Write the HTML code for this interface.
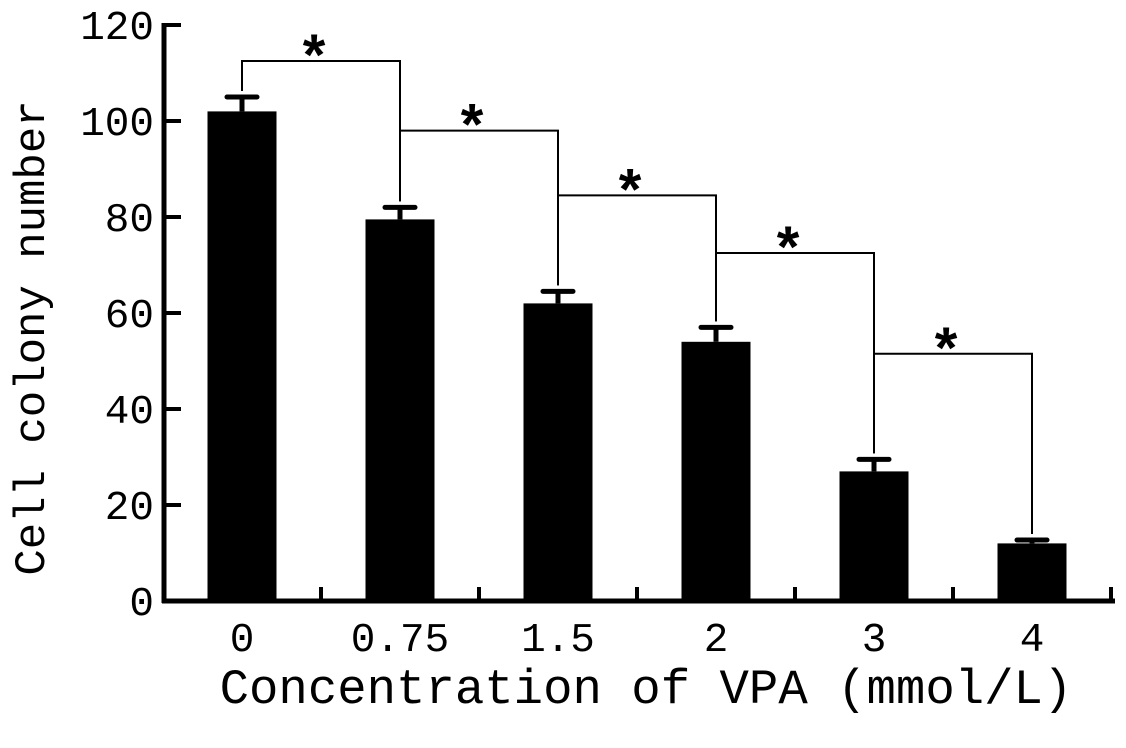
<!DOCTYPE html>
<html><head><meta charset="utf-8"><style>
html,body{margin:0;padding:0;background:#fff;}
svg{display:block;}
text{font-family:"Liberation Mono",monospace;fill:#000;}
</style></head><body>
<svg id="chart" width="1126" height="748" viewBox="0 0 1126 748" xmlns="http://www.w3.org/2000/svg">
<g id="axes"></g>
<g id="bars"></g>
<g id="sig"></g>
<text x="646" y="703" font-size="49" text-anchor="middle">Concentration of VPA (mmol/L)</text>
<text transform="translate(44,338) rotate(-90)" font-size="44" text-anchor="middle">Cell colony number</text>
</svg>
<script>
const categories = ["0","0.75","1.5","2","3","4"];
const values = [102, 79.5, 62, 54, 27, 12];
const errors = [3, 2.5, 2.5, 3, 2.5, 0.7];
const yTicks = [0,20,40,60,80,100,120];
const sigPairs = [[0,1],[1,2],[2,3],[3,4],[4,5]];
const sigLevels = [112.5, 98, 84.5, 72.5, 51.5];

const NS="http://www.w3.org/2000/svg";
const x0=164, x1=1115, y0=601, yTop=25;
const yMax=120;
function ys(v){return y0-(v/yMax)*(y0-yTop);}
const step=158, first=242;
function xs(i){return first+i*step;}
const bw=69;
function mk(tag,attrs,parent){const e=document.createElementNS(NS,tag);for(const k in attrs)e.setAttribute(k,attrs[k]);parent.appendChild(e);return e;}
const axes=document.getElementById('axes'), bars=document.getElementById('bars'), sig=document.getElementById('sig');

let yl=mk('line',{x1:x0,y1:yTop-2,x2:x0,y2:y0+2,stroke:'#000','stroke-width':5},axes);


let xl=mk('line',{x1:x0-2,y1:y0,x2:x1,y2:y0,stroke:'#000','stroke-width':5},axes);



yTicks.forEach(t=>{
  const y=ys(t);
  const tk=mk('line',{x1:x0,y1:y,x2:x0+17,y2:y,stroke:'#000','stroke-width':4},axes);
  
  
  const lb=mk('text',{x:154,y:y+14,'font-size':41,'text-anchor':'end'},axes);
  lb.textContent=t;
  
  
});

categories.forEach((c,i)=>{
  const tx=xs(i)+step/2;
  const tk=mk('line',{x1:tx,y1:y0,x2:tx,y2:y0-14,stroke:'#000','stroke-width':4},axes);
  
  
  const lb=mk('text',{x:xs(i),y:651,'font-size':41,'text-anchor':'middle'},axes);
  lb.textContent=c;
  
  

  const top=ys(values[i]);
  const r=mk('rect',{x:xs(i)-bw/2,y:top,width:bw,height:y0-top,fill:'#000'},bars);
  
  
  const cap=ys(values[i]+errors[i]);
  const ev=mk('line',{x1:xs(i),y1:cap,x2:xs(i),y2:top,stroke:'#000','stroke-width':5},bars);
  
  
  const ec=mk('line',{x1:xs(i)-15,y1:cap,x2:xs(i)+15,y2:cap,stroke:'#000','stroke-width':5,'stroke-linecap':'round'},bars);
  
  
});

sigPairs.forEach((p,k)=>{
  const h=ys(sigLevels[k]);
  const a=xs(p[0]), b=xs(p[1]);
  const ca=ys(values[p[0]]+errors[p[0]])-6, cb=ys(values[p[1]]+errors[p[1]])-6;
  const pl=mk('polyline',{points:`${a},${ca} ${a},${h} ${b},${h} ${b},${cb}`,fill:'none',stroke:'#000','stroke-width':2},sig);
  
  
  const st=mk('text',{x:(a+b)/2-7,y:h+14,'font-size':58,'font-weight':'bold','text-anchor':'middle',style:'font-family:"Liberation Sans",sans-serif'},sig);
  st.textContent='*';
  
  
});
</script>
</body></html>
